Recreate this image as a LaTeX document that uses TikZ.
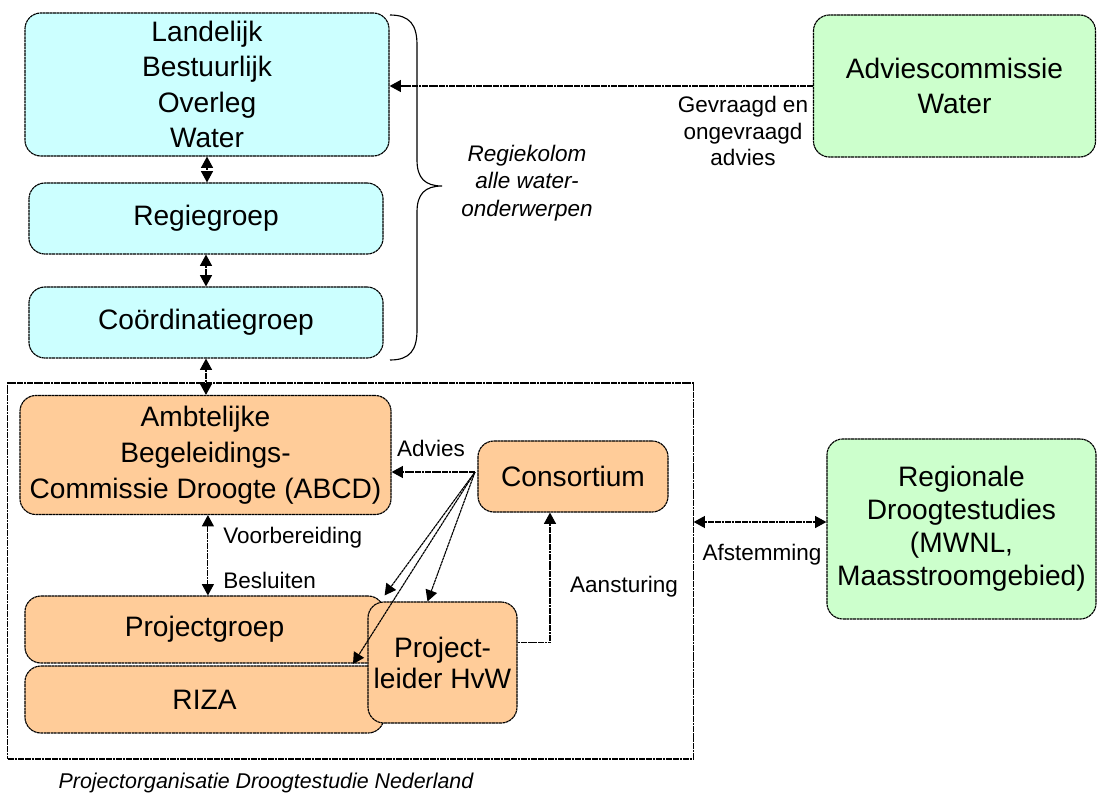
\documentclass[tikz,border=0pt]{standalone}
\usepackage{fontspec}
\setmainfont{Liberation Sans}
\usetikzlibrary{arrows.meta,calc}
\definecolor{cyanbox}{HTML}{CCFFFF}
\definecolor{greenbox}{HTML}{CCFFCC}
\definecolor{orangebox}{HTML}{FFCC99}
\begin{document}
\begin{tikzpicture}[x=0.025cm, y=-0.025cm,
   box/.style={draw=black, line width=0.8pt, dash pattern=on 2pt off 0.4pt, rounded corners=0.4cm,
      inner sep=0pt, align=center, font=\fontsize{20}{25}\selectfont},
   lbl/.style={align=center, inner sep=0pt, font=\fontsize{16}{19}\selectfont},
   arr/.style={line width=0.8pt, dash pattern=on 2pt off 0.4pt, -{Triangle[length=8pt, width=8.5pt]}},
   darr/.style={arr, {Triangle[length=8pt, width=8.5pt]}-{Triangle[length=8pt, width=8.5pt]}}]
   \useasboundingbox (0,0) rectangle (1098,796);
   % regiekolom
   \node[box, fill=cyanbox, minimum width=9.1cm, minimum height=3.575cm] (lbow) at (207,84.5) {Landelijk\\Bestuurlijk\\Overleg\\Water};
   \node[box, fill=cyanbox, minimum width=8.85cm, minimum height=1.775cm] (regie) at (206,218.5) {Regiegroep};
   \node[box, fill=cyanbox, minimum width=8.85cm, minimum height=1.775cm] (coord) at (206,322.5) {Coördinatiegroep};
   \draw[line width=0.8pt] (390,15) .. controls (410,15) and (417,25) .. (417,45) -- (417,160)
      .. controls (417,178) and (425,186) .. (442,186) .. controls (425,186) and (417,194) .. (417,212)
      -- (417,330) .. controls (417,350) and (410,360) .. (390,360);
   \node[lbl, font=\fontsize{16}{19.5}\selectfont\itshape] (kolom) at (527,183) {Regiekolom\\alle water-\\onderwerpen};
   \node[box, fill=greenbox, minimum width=7.05cm, minimum height=3.55cm] (advies) at (954.5,86) {Adviescommissie\\Water};
   \node[lbl] (gevraagd) at (743,131) {Gevraagd en\\ongevraagd\\advies};
   % projectorganisatie
   \node[draw=black, line width=0.8pt, dash pattern=on 2pt off 0.4pt, minimum width=17.125cm, minimum height=9.4cm, inner sep=0pt] (frame) at (350.5,571) {};
   \node[box, fill=orangebox, minimum width=9.275cm, minimum height=2.975cm, font=\fontsize{20}{25.5}\selectfont] (abcd) at (205.5,455) {Ambtelijke\\Begeleidings-\\Commissie Droogte (ABCD)};
   \node[box, fill=orangebox, minimum width=4.75cm, minimum height=1.775cm] (cons) at (573,476.5) {Consortium};
   \node[box, fill=orangebox, minimum width=8.975cm, minimum height=1.675cm] (pgroep) at (204.5,629.5) {Projectgroep};
   \node[box, fill=orangebox, minimum width=8.975cm, minimum height=1.675cm] (riza) at (204.5,699.5) {RIZA};
   \node[box, fill=orangebox, minimum width=3.725cm, minimum height=3.025cm, font=\fontsize{20}{22}\selectfont] (pleider) at (442.5,662.5) {Project-\\leider HvW};
   \node[box, fill=greenbox, minimum width=6.725cm, minimum height=4.5cm, font=\fontsize{20}{23.5}\selectfont] (regio) at (961.5,529) {Regionale\\Droogtestudies\\(MWNL,\\Maasstroomgebied)};
   \node[lbl, font=\fontsize{15.2}{18}\selectfont\itshape] (projorg) at (266,783) {Projectorganisatie Droogtestudie Nederland};
   % connectors
   \draw[arr] (advies.west) -- (lbow.east |- advies.west);
   \draw[darr] (lbow.south) -- (lbow.south |- regie.north);
   \draw[darr] (regie.south) -- (regie.south |- coord.north);
   \draw[darr] (coord.south) -- (coord.south |- abcd.north);
   \draw[darr] ([xshift=0.06cm]abcd.south) -- ([xshift=0.06cm]abcd.south |- pgroep.north);
   \node[lbl, anchor=west] (voorb) at (223,538) {Voorbereiding};
   \node[lbl, anchor=west] (besl) at (223,580) {Besluiten};
   \coordinate (src) at (475,472);
   \coordinate (seam) at (353,664);
   \draw[arr] (src) -- (src -| abcd.east);
   \node[lbl] (adv) at (431,448) {Advies};
   \draw[arr] (src) -- (pgroep.north east);
   \draw[arr] (src) -- (seam);
   \draw[arr] (src) -- ([xshift=-0.375cm]pleider.north);
   \draw[arr] ([yshift=0.5cm]pleider.east) -| ([xshift=-0.575cm]cons.south);
   \node[lbl] (aanst) at (624,587) {Aansturing};
   \draw[darr] (frame.east |- 0,522) -- (regio.west |- 0,522);
   \node[lbl] (afst) at (762,555) {Afstemming};
\end{tikzpicture}
\end{document}
